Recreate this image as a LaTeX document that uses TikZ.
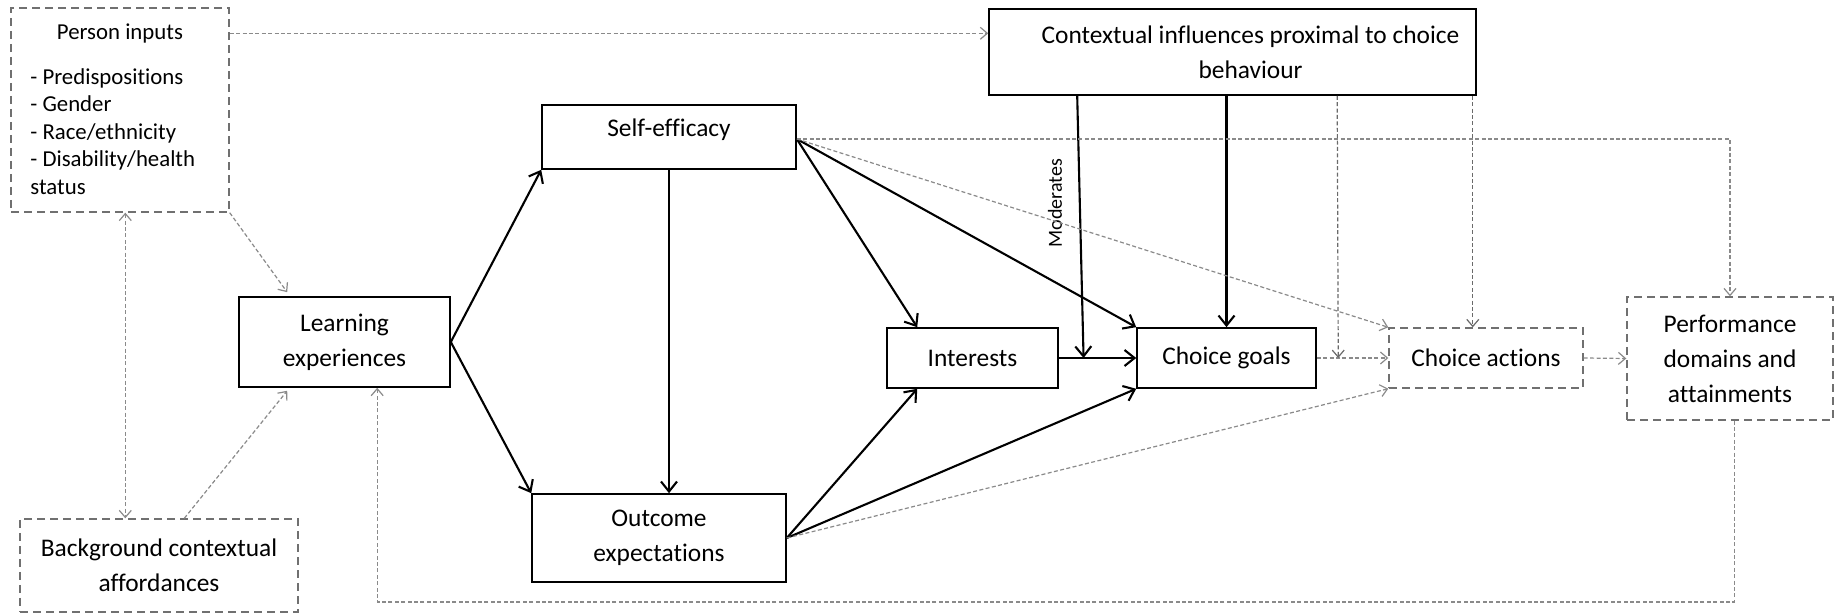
\documentclass[tikz,border=0pt]{standalone}
\usepackage{fontspec}
\setmainfont[Ligatures=NoCommon]{Carlito}
\usetikzlibrary{arrows.meta,calc}
\definecolor{dgray}{HTML}{8A8A8A}
\definecolor{vgray}{HTML}{6A6A6A}
\definecolor{bgray}{HTML}{707070}
\newcommand{\mainsz}{\fontsize{12.7}{17.5}\selectfont}
\newcommand{\smallsz}{\fontsize{11.4}{13.75}\selectfont}
\begin{document}
\begin{tikzpicture}[x=0.5pt,y=-0.5pt,
  sbox/.style={draw=black,line width=0.8pt,inner sep=0pt,align=center,font=\mainsz},
  dbox/.style={draw=bgray,line width=0.7pt,dash pattern=on 4pt off 2.5pt,inner sep=0pt,align=center,font=\mainsz},
  sarr/.style={line width=1.05pt,-{Straight Barb[length=5pt,width=8pt]}},
  darr/.style={draw=dgray,line width=0.6pt,dash pattern=on 2pt off 1.2pt,-{Straight Barb[length=3.5pt,width=6pt]}},
  varr/.style={darr,draw=vgray},
]
\useasboundingbox (0,0) rectangle (1837,613);

% boxes
\node[dbox,minimum width=109pt,minimum height=102pt] (person) at (120,110) {};
\node[font=\smallsz,inner sep=0pt] (ptitle) at (120,34) {Person inputs};
\node[font=\smallsz,align=left,inner sep=0pt,anchor=north west] (plist) at (30,68)
  {- Predispositions\\- Gender\\- Race/ethnicity\\- Disability/health\\status};

\node[sbox,minimum width=243.5pt,minimum height=43pt,
  label={[xshift=9pt,align=center,font=\mainsz]center:Contextual influences proximal to choice\\behaviour}] (ci) at (1232.5,52) {};

\node[sbox,minimum width=127pt,minimum height=32pt,text depth=9.5pt] (se) at (669,137) {Self-efficacy};
\node[sbox,minimum width=105.5pt,minimum height=45pt] (le) at (344.5,342) {Learning\\experiences};
\node[sbox,minimum width=127pt,minimum height=44pt] (oe) at (659,538) {Outcome\\expectations};
\node[dbox,minimum width=139pt,minimum height=46.5pt] (bg) at (159,565.5) {Background contextual\\affordances};
\node[sbox,minimum width=85.5pt,minimum height=30pt] (in) at (972.5,358) {Interests};
\node[sbox,minimum width=89.5pt,minimum height=30pt] (cg) at (1226.5,358) {Choice goals};
\node[dbox,minimum width=97pt,minimum height=30pt] (ca) at (1486,358) {Choice actions};
\node[dbox,minimum width=103pt,minimum height=61.5pt] (pf) at (1730,358.5) {Performance\\domains and\\attainments};

\node[rotate=90,font=\fontsize{10}{12}\selectfont,inner sep=0pt] (mod) at (1055,203) {Moderates};

% helper coordinates
\coordinate (seo) at ([yshift=-1pt]se.east);
\coordinate (fb) at (0,602);

% solid connectors
\draw[sarr] (le.east) -- (se.south west);
\draw[sarr] (le.east) -- (oe.north west);
\draw[sarr] (se.south) -- (se.south |- oe.north);
\draw[sarr] (seo) -- ([xshift=15.5pt]in.north west);
\draw[sarr] (seo) -- (cg.north west);
\draw[sarr] (oe.east) -- ([xshift=15.5pt]in.south west);
\draw[sarr] (oe.east) -- (cg.south west);
\draw[sarr] (in.east) -- (cg.west);
\draw[sarr] ([xshift=44.5pt]ci.south west) -- ($(in.east)!0.32!(cg.west)$);
\draw[sarr] (cg.north |- ci.south) -- (cg.north);

% dashed connectors
\coordinate (p1) at ([yshift=-13pt]person.north east);
\draw[darr] (p1) -- (p1 -| ci.west);
\draw[darr] (person.south east) -- ([xshift=24.5pt,yshift=2pt]le.north west);
\draw[darr,{Straight Barb[length=3.5pt,width=6pt]}-{Straight Barb[length=3.5pt,width=6pt]}]
  ([xshift=57.5pt]person.south west) -- ([xshift=57.5pt]person.south west |- bg.north);
\draw[darr] ([xshift=82.5pt]bg.north west) -- ([xshift=24.5pt,yshift=-1.5pt]le.south west);
\draw[darr] ([xshift=54pt]pf.south west) -- ([xshift=54pt]pf.south west |- fb)
  -- ([xshift=69.5pt]le.south west |- fb) -- ([xshift=69.5pt]le.south west);
\draw[darr] (seo) -| (pf.north);
\draw[darr] (seo) -- (ca.north west);
\draw[darr] (oe.east) -- (ca.south west);
\draw[darr] (cg.east) -- (ca.west);
\draw[varr] ([xshift=174.5pt]ci.south west) -- ($(cg.east)!0.3!(ca.west)$);
\draw[varr] ([xshift=-2pt]ci.south east) -- ([xshift=-2pt]ci.south east |- ca.north);
\draw[darr] (ca.east) -- (pf.west);
\end{tikzpicture}
\end{document}
